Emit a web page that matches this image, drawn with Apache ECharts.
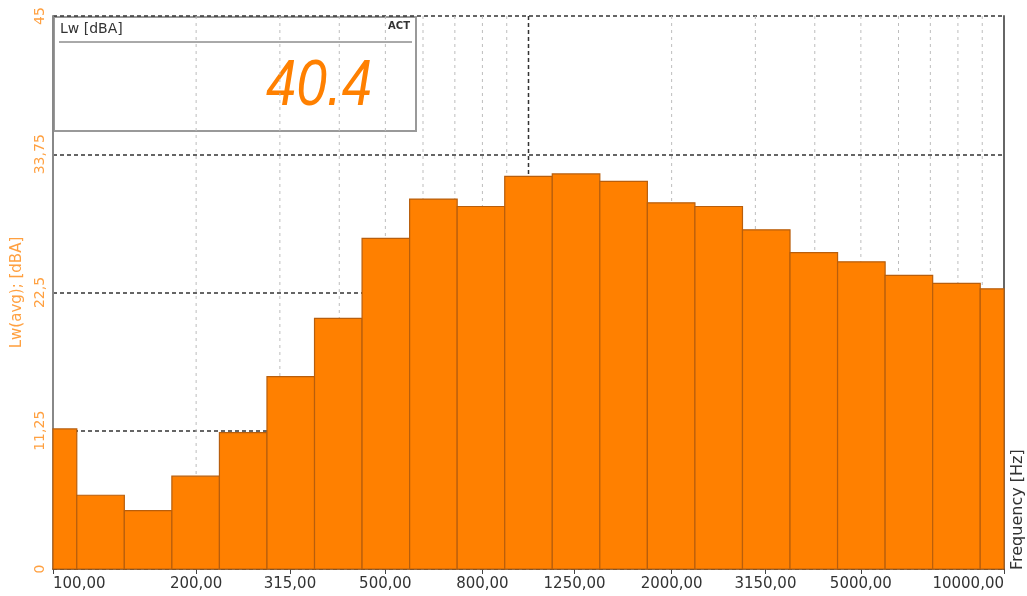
<!DOCTYPE html>
<html>
<head>
<meta charset="utf-8">
<title>Lw spectrum</title>
<script src="https://cdn.jsdelivr.net/npm/echarts@6.0.0/dist/echarts.min.js"></script>
<style>
  html, body { margin: 0; padding: 0; background: #fff; }
  #chart { width: 1027px; height: 596px; }
</style>
</head>
<body>
<div id="chart"></div>
<script>
// 1/3 octave bands, Hz
const bands = [100, 125, 160, 200, 250, 315, 400, 500, 630, 800, 1000,
  1250, 1600, 2000, 2500, 3150, 4000, 5000, 6300, 8000, 10000];
// Lw(avg) per band, dBA
const levels = [11.4, 6.0, 4.75, 7.55, 11.1, 15.65, 20.4, 26.9, 30.1, 29.5, 31.95,
  32.15, 31.55, 29.8, 29.5, 27.6, 25.75, 25.0, 23.9, 23.25, 22.8];
// labelled frequencies on the x axis
const xLabels = [100, 200, 315, 500, 800, 1250, 2000, 3150, 5000, 10000];
// vertical grid lines
const minorGrid = [200, 300, 400, 500, 600, 700, 800, 900,
  2000, 3000, 4000, 5000, 6000, 7000, 8000, 9000];
const majorGrid = [1000];
// value shown in the display box
const actValue = 40.4;

const orange = '#FF8000';
const labelOrange = '#FFA040';

// exact band centre from the nominal one, then +-1/6 octave edges
const bandData = bands.map((f, i) => {
  const c = Math.pow(10, Math.round(Math.log10(f) * 10) / 10);
  return [c / Math.pow(10, 0.05), c * Math.pow(10, 0.05), levels[i]];
});

const gridData = minorGrid.map(f => [f, 0]).concat(majorGrid.map(f => [f, 1]));

const comma = v => String(v).replace('.', ',');

let chart = echarts.init(document.getElementById('chart'));

let option = {
  backgroundColor: '#fff',
  animation: false,
  grid: { left: 53, right: 23, top: 16, bottom: 27, outerBoundsMode: 'none' },
  xAxis: {
    type: 'log',
    logBase: 10,
    min: 100,
    max: 10000,
    axisLine: { show: true, lineStyle: { color: '#444', width: 1.5 } },
    axisTick: { show: true, length: 5, customValues: xLabels, lineStyle: { color: '#444' } },
    axisLabel: {
      customValues: xLabels,
      formatter: v => v.toFixed(2).replace('.', ','),
      color: '#333',
      fontFamily: 'DejaVu Sans',
      fontSize: 15,
      margin: 8,
      alignMinLabel: 'left',
      alignMaxLabel: 'right'
    },
    splitLine: { show: false },
    minorTick: { show: false },
    minorSplitLine: { show: false }
  },
  yAxis: [
    {
      type: 'value',
      min: 0,
      max: 45,
      interval: 11.25,
      name: 'Lw(avg); [dBA]',
      nameLocation: 'middle',
      nameRotate: 90,
      nameGap: 28,
      nameTextStyle: { color: labelOrange, fontFamily: 'DejaVu Sans', fontSize: 15 },
      axisLine: { show: true, lineStyle: { color: '#888', width: 2 } },
      axisTick: { show: false },
      axisLabel: {
        rotate: 90,
        formatter: comma,
        color: labelOrange,
        fontFamily: 'DejaVu Sans',
        fontSize: 14,
        margin: 6
      },
      splitLine: { show: true, lineStyle: { color: '#333', width: 1.5, type: [4, 3] } }
    },
    {
      type: 'value',
      position: 'right',
      min: 0,
      max: 45,
      interval: 11.25,
      axisLine: { show: true, lineStyle: { color: '#666', width: 2 } },
      axisTick: { show: false },
      axisLabel: { show: false },
      splitLine: { show: false }
    }
  ],
  series: [
    {
      name: 'grid',
      type: 'custom',
      silent: true,
      z: 1,
      data: gridData,
      encode: { x: 0 },
      renderItem: (params, api) => {
        const f = api.value(0);
        const major = api.value(1) === 1;
        const top = api.coord([f, 45]);
        const bottom = api.coord([f, 0]);
        return {
          type: 'line',
          shape: { x1: top[0], y1: top[1], x2: bottom[0], y2: bottom[1] },
          style: major
            ? { stroke: '#333', lineWidth: 1.5, lineDash: [4, 3] }
            : { stroke: '#bdbdbd', lineWidth: 1, lineDash: [3, 4] }
        };
      }
    },
    {
      name: 'Lw',
      type: 'custom',
      z: 3,
      data: bandData,
      encode: { x: [0, 1], y: 2 },
      renderItem: (params, api) => {
        const p0 = api.coord([api.value(0), api.value(2)]);
        const p1 = api.coord([api.value(1), 0]);
        const shape = echarts.graphic.clipRectByRect(
          { x: p0[0], y: p0[1], width: p1[0] - p0[0], height: p1[1] - p0[1] },
          { x: params.coordSys.x, y: params.coordSys.y,
            width: params.coordSys.width, height: params.coordSys.height }
        );
        return shape && {
          type: 'rect',
          shape: shape,
          style: { fill: orange, stroke: '#B85E0C', lineWidth: 1.2 }
        };
      }
    }
  ],
  graphic: [
    {
      type: 'group',
      left: 53,
      top: 16,
      z: 10,
      children: [
        {
          type: 'rect',
          shape: { x: 0, y: 0, width: 362, height: 114 },
          style: { fill: '#fff', stroke: '#999', lineWidth: 2 }
        },
        {
          type: 'text',
          x: 6, y: 5,
          style: { text: 'Lw [dBA]', fill: '#333', font: '14px "DejaVu Sans"' }
        },
        {
          type: 'text',
          x: 356, y: 4,
          style: { text: 'ACT', fill: '#333', font: 'bold 10px "DejaVu Sans"', align: 'right' }
        },
        {
          type: 'line',
          shape: { x1: 5, y1: 25, x2: 358, y2: 25 },
          style: { stroke: '#555', lineWidth: 1 }
        },
        {
          type: 'text',
          x: 318, y: 70,
          scaleX: 0.85,
          style: {
            text: String(actValue),
            fill: orange,
            font: 'italic 64px "Liberation Sans"',
            align: 'right',
            verticalAlign: 'middle'
          }
        }
      ]
    },
    {
      type: 'text',
      x: 1018, y: 570,
      rotation: Math.PI / 2,
      style: {
        text: 'Frequency [Hz]',
        fill: '#333',
        font: '16px "DejaVu Sans"',
        align: 'left',
        verticalAlign: 'middle'
      }
    }
  ]
};

chart.setOption(option);
</script>
</body>
</html>
